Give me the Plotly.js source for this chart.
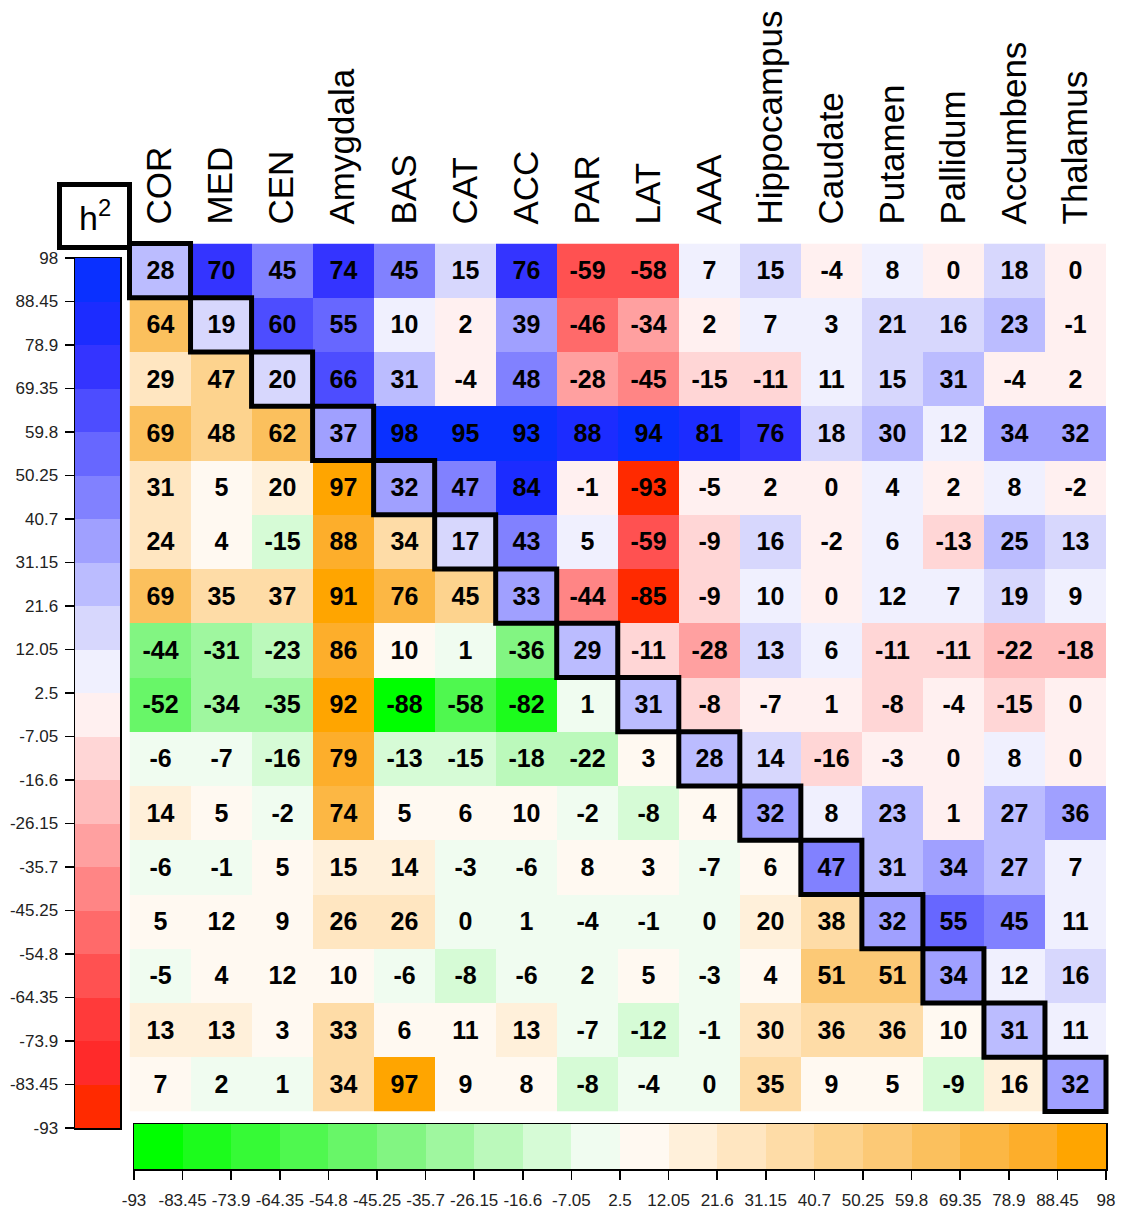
<!DOCTYPE html>
<html>
<head>
<meta charset="utf-8">
<script src="https://cdn.plot.ly/plotly-3.0.1.min.js"></script>
<style>
  html, body { margin: 0; padding: 0; background: #ffffff; }
  #chart { width: 1130px; height: 1211px; }
</style>
</head>
<body>
<div id="chart"></div>
<script>
// Brain regions (rows top-to-bottom, columns left-to-right)
const regions = ["COR", "MED", "CEN", "Amygdala", "BAS", "CAT", "ACC", "PAR", "LAT",
                 "AAA", "Hippocampus", "Caudate", "Putamen", "Pallidum", "Accumbens", "Thalamus"];

// One row per region: lower triangle, diagonal (h2) and upper triangle, in %
const rowCOR         = [ 28,  70,  45,  74,  45,  15,  76, -59, -58,   7,  15,  -4,   8,   0,  18,   0];
const rowMED         = [ 64,  19,  60,  55,  10,   2,  39, -46, -34,   2,   7,   3,  21,  16,  23,  -1];
const rowCEN         = [ 29,  47,  20,  66,  31,  -4,  48, -28, -45, -15, -11,  11,  15,  31,  -4,   2];
const rowAmygdala    = [ 69,  48,  62,  37,  98,  95,  93,  88,  94,  81,  76,  18,  30,  12,  34,  32];
const rowBAS         = [ 31,   5,  20,  97,  32,  47,  84,  -1, -93,  -5,   2,   0,   4,   2,   8,  -2];
const rowCAT         = [ 24,   4, -15,  88,  34,  17,  43,   5, -59,  -9,  16,  -2,   6, -13,  25,  13];
const rowACC         = [ 69,  35,  37,  91,  76,  45,  33, -44, -85,  -9,  10,   0,  12,   7,  19,   9];
const rowPAR         = [-44, -31, -23,  86,  10,   1, -36,  29, -11, -28,  13,   6, -11, -11, -22, -18];
const rowLAT         = [-52, -34, -35,  92, -88, -58, -82,   1,  31,  -8,  -7,   1,  -8,  -4, -15,   0];
const rowAAA         = [ -6,  -7, -16,  79, -13, -15, -18, -22,   3,  28,  14, -16,  -3,   0,   8,   0];
const rowHippocampus = [ 14,   5,  -2,  74,   5,   6,  10,  -2,  -8,   4,  32,   8,  23,   1,  27,  36];
const rowCaudate     = [ -6,  -1,   5,  15,  14,  -3,  -6,   8,   3,  -7,   6,  47,  31,  34,  27,   7];
const rowPutamen     = [  5,  12,   9,  26,  26,   0,   1,  -4,  -1,   0,  20,  38,  32,  55,  45,  11];
const rowPallidum    = [ -5,   4,  12,  10,  -6,  -8,  -6,   2,   5,  -3,   4,  51,  51,  34,  12,  16];
const rowAccumbens   = [ 13,  13,   3,  33,   6,  11,  13,  -7, -12,  -1,  30,  36,  36,  10,  31,  11];
const rowThalamus    = [  7,   2,   1,  34,  97,   9,   8,  -8,  -4,   0,  35,   9,   5,  -9,  16,  32];

// Colour-scale break points and their labels
const scaleTicks = [-93, -83.45, -73.9, -64.35, -54.8, -45.25, -35.7, -26.15, -16.6, -7.05, 2.5,
                    12.05, 21.6, 31.15, 40.7, 50.25, 59.8, 69.35, 78.9, 88.45, 98];
const scaleTickText = ["-93", "-83.45", "-73.9", "-64.35", "-54.8", "-45.25", "-35.7", "-26.15", "-16.6", "-7.05", "2.5",
                       "12.05", "21.6", "31.15", "40.7", "50.25", "59.8", "69.35", "78.9", "88.45", "98"];

// 20 binned colours, lowest bin first
const redBlueColors = ["#ff2a00", "#ff2a2a", "#ff3a3a", "#ff5151", "#ff6a6a", "#ff8585", "#ffa0a0", "#ffbcbc", "#ffd6d6", "#fff0f0",
                       "#f0f0fe", "#d7d7fd", "#bbbcff", "#a0a0ff", "#8181ff", "#6767ff", "#4d4dff", "#3434ff", "#1c2cff", "#0a30ff"];
const greenOrangeColors = ["#00ff00", "#1cfc1c", "#36fa36", "#4ff84f", "#68f668", "#82f582", "#9ff79f", "#bbf9bb", "#d6fbd6", "#f0fcf0",
                           "#fff9f1", "#fff0da", "#ffe6c1", "#fedca7", "#fdd38e", "#fcc976", "#fbc05d", "#fcb744", "#fdae2b", "#ffa500"];

const matrix = [rowCOR, rowMED, rowCEN, rowAmygdala, rowBAS, rowCAT, rowACC, rowPAR, rowLAT,
                rowAAA, rowHippocampus, rowCaudate, rowPutamen, rowPallidum, rowAccumbens, rowThalamus];

const W = 1130, H = 1211;
const fx = px => px / W;
const fy = py => 1 - py / H;

function stepScale(colors) {
  const n = colors.length, cs = [];
  colors.forEach((c, i) => { cs.push([i / n, c]); cs.push([(i + 1) / n, c]); });
  return cs;
}
const zmin = scaleTicks[0], zmax = scaleTicks[scaleTicks.length - 1];
const binCenters = scaleTicks.slice(0, -1).map((t, i) => (t + scaleTicks[i + 1]) / 2);

const n = regions.length;
const idx = regions.map((_, i) => i);

// Upper triangle + diagonal use the red-blue scale, lower triangle the green-orange one
const upperZ = [], upperT = [], lowerZ = [], lowerT = [];
for (let i = 0; i < n; i++) {
  upperZ.push([]); upperT.push([]); lowerZ.push([]); lowerT.push([]);
  for (let j = 0; j < n; j++) {
    const v = matrix[i][j];
    if (j >= i) { upperZ[i].push(v); upperT[i].push(String(v)); lowerZ[i].push(null); lowerT[i].push(""); }
    else { lowerZ[i].push(v); lowerT[i].push(String(v)); upperZ[i].push(null); upperT[i].push(""); }
  }
}

const cellFont = { family: "Liberation Sans, Arial, sans-serif", size: 25, color: "#000000", weight: "bold" };

const traces = [
  {
    type: "heatmap", x: idx, y: idx, z: upperZ, text: upperT, texttemplate: "%{text}",
    textfont: cellFont, colorscale: stepScale(redBlueColors), zmin: zmin, zmax: zmax,
    showscale: false, hoverinfo: "skip", xaxis: "x", yaxis: "y"
  },
  {
    type: "heatmap", x: idx, y: idx, z: lowerZ, text: lowerT, texttemplate: "%{text}",
    textfont: cellFont, colorscale: stepScale(greenOrangeColors), zmin: zmin, zmax: zmax,
    showscale: false, hoverinfo: "skip", xaxis: "x", yaxis: "y"
  },
  // vertical key for the red-blue scale
  {
    type: "heatmap", x: [0], y: binCenters, z: binCenters.map(c => [c]),
    colorscale: stepScale(redBlueColors), zmin: zmin, zmax: zmax,
    showscale: false, hoverinfo: "skip", xaxis: "x2", yaxis: "y2"
  },
  // horizontal key for the green-orange scale
  {
    type: "heatmap", x: binCenters, y: [0], z: [binCenters],
    colorscale: stepScale(greenOrangeColors), zmin: zmin, zmax: zmax,
    showscale: false, hoverinfo: "skip", xaxis: "x3", yaxis: "y3"
  }
];

// Thick outline around each diagonal (heritability) cell
const shapes = idx.map(i => ({
  type: "rect", xref: "x domain", yref: "y domain",
  x0: i / n, x1: (i + 1) / n, y0: 1 - (i + 1) / n, y1: 1 - i / n,
  line: { color: "#000000", width: 5 }, fillcolor: "rgba(0,0,0,0)", layer: "above"
}));
// header box for the h2 label
shapes.push({
  type: "rect", xref: "paper", yref: "paper",
  x0: fx(59.5), x1: fx(129.5), y0: fy(247.5), y1: fy(184.5),
  line: { color: "#000000", width: 5 }, fillcolor: "rgba(0,0,0,0)"
});

const labelFont = { family: "Liberation Sans, Arial, sans-serif", size: 35, color: "#000000" };
const keyFont = { family: "Liberation Sans, Arial, sans-serif", size: 17, color: "#222222" };

const layout = {
  width: W, height: H,
  margin: { l: 0, r: 0, t: 0, b: 0 },
  paper_bgcolor: "#ffffff", plot_bgcolor: "#ffffff",
  showlegend: false,
  xaxis: {
    domain: [fx(129.5), fx(1106)], range: [-0.5, n - 0.5], side: "top",
    tickmode: "array", tickvals: idx, ticktext: regions, tickangle: -90,
    ticks: "", ticklabelstandoff: 18, tickfont: labelFont,
    showgrid: false, zeroline: false, showline: false, fixedrange: true
  },
  yaxis: {
    domain: [fy(1111.5), fy(243.5)], range: [n - 0.5, -0.5],
    showticklabels: false, ticks: "", showgrid: false, zeroline: false, showline: false, fixedrange: true
  },
  xaxis2: {
    domain: [fx(75), fx(120)], anchor: "y2", range: [-0.5, 0.5],
    showticklabels: false, ticks: "", showgrid: false, zeroline: false,
    showline: true, mirror: true, linecolor: "#000000", linewidth: 1.5, fixedrange: true
  },
  yaxis2: {
    domain: [fy(1128), fy(258)], anchor: "x2", range: [zmin, zmax],
    tickmode: "array", tickvals: scaleTicks, ticktext: scaleTickText,
    ticks: "outside", ticklen: 9, tickwidth: 1.5, tickcolor: "#000000", tickfont: keyFont,
    ticklabelstandoff: 3,
    showgrid: false, zeroline: false,
    showline: true, mirror: true, linecolor: "#000000", linewidth: 1.5, fixedrange: true
  },
  xaxis3: {
    domain: [fx(134), fx(1106)], anchor: "y3", range: [zmin, zmax],
    tickmode: "array", tickvals: scaleTicks, ticktext: scaleTickText,
    ticks: "outside", ticklen: 9, tickwidth: 1.5, tickcolor: "#000000", tickfont: keyFont,
    tickangle: 0, ticklabelstandoff: 6,
    showgrid: false, zeroline: false,
    showline: true, mirror: true, linecolor: "#000000", linewidth: 1.5, fixedrange: true
  },
  yaxis3: {
    domain: [fy(1169), fy(1124)], anchor: "x3", range: [-0.5, 0.5],
    showticklabels: false, ticks: "", showgrid: false, zeroline: false,
    showline: true, mirror: true, linecolor: "#000000", linewidth: 1.5, fixedrange: true
  },
  shapes: shapes,
  annotations: [{
    xref: "paper", yref: "paper", x: fx(94.5), y: fy(216), xanchor: "center", yanchor: "middle",
    text: "h<sup>2</sup>", showarrow: false,
    font: { family: "Liberation Sans, Arial, sans-serif", size: 34, color: "#000000" }
  }]
};

Plotly.newPlot("chart", traces, layout, { staticPlot: true, displayModeBar: false });
</script>
</body>
</html>
